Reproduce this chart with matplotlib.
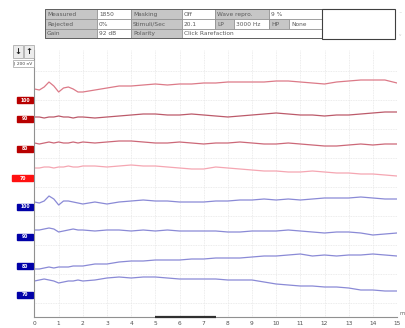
import matplotlib
matplotlib.use('Agg')
import matplotlib.pyplot as plt
import matplotlib.transforms as mtransforms
from matplotlib.patches import Rectangle

# time axis (ms)
t = [0, 0.2, 0.4, 0.6, 0.8, 1.0, 1.2, 1.4, 1.6, 1.8, 2.0,
     2.5, 3.0, 3.5, 4.0, 4.5, 5.0, 5.5, 6.0, 6.5, 7.0, 7.5, 8.0, 8.5,
     9.0, 9.5, 10.0, 10.5, 11.0, 11.5, 12.0, 12.5, 13.0, 13.5, 14.0, 14.5, 15.0]

# waveform amplitudes (display units, up = positive)
red_100 = [0, -1, 2, 7, 3, -3, 1, 2, 0, -3, -3,
           -1, 1, 3, 3, 4, 5, 4, 5, 5, 6, 6, 7, 7, 7, 7, 8, 8, 7, 6, 5, 7, 8, 9, 9, 9, 6]
red_90 = [0, 0, -1, 0, 0, 1, 0, 0, -1, 0, 0,
          -1, 0, 1, 2, 3, 3, 2, 2, 3, 2, 1, 0, 1, 2, 3, 4, 3, 2, 2, 1, 2, 2, 3, 4, 5, 5]
red_80 = [0, -1, 0, 1, 0, 1, 0, 0, 1, 0, 1,
          0, 1, 2, 2, 1, 0, 0, 1, 0, -1, 0, 0, 1, 0, -1, -1, 0, -1, -2, -3, -3, -2, -1, -2, -1, -1]
red_70 = [0, 0, 1, 1, 0, 1, 1, 2, 1, 1, 2,
          2, 1, 2, 3, 2, 2, 1, 0, -1, -1, 1, 0, -1, -2, -3, -3, -4, -4, -3, -4, -5, -5, -6, -6, -7, -8]
blue_100 = [0, -1, 1, 6, 3, -3, 1, 1, 0, -1, -2,
            0, -2, 0, 1, 2, 1, 1, 0, 0, 0, 1, 1, 2, 2, 3, 2, 3, 2, 3, 4, 4, 4, 5, 4, 3, 3]
blue_90 = [0, 0, 1, 2, 1, -2, -1, 0, 1, 0, 0,
           -1, 0, 0, -1, 0, -1, 0, -1, -1, -1, -1, -2, -2, -1, -1, -1, 0, -1, -2, -3, -2, -2, -3, -5, -4, -3]
blue_80 = [0, 0, 1, 2, 1, 2, 2, 2, 3, 3, 3,
           5, 5, 7, 8, 8, 9, 9, 9, 10, 10, 11, 11, 11, 12, 13, 13, 14, 15, 13, 14, 13, 14, 14, 15, 14, 13]
blue_70 = [0, 1, 2, 1, 0, -2, -1, 0, 0, 1, 0,
           1, 3, 4, 3, 4, 4, 3, 2, 2, 2, 2, 1, 1, 1, -1, -3, -4, -5, -5, -6, -6, -7, -9, -9, -10, -10]

levels = ['100', '90', '80', '70']
x_ticks = list(range(0, 16))

# header table text
row1 = ['Measured', '1850', 'Masking', 'Off', 'Wave repro.', '9 %']
row2 = ['Rejected', '0%', 'Stimuli/Sec', '20.1', 'LP', '3000 Hz', 'HP', 'None']
row3 = ['Gain', '92 dB', 'Polarity', 'Click Rarefaction']

W, H = 406, 328
fig = plt.figure(figsize=(W / 100, H / 100), dpi=100)


def px(x0, y0, x1, y1):
    return [x0 / W, 1 - y1 / H, (x1 - x0) / W, (y1 - y0) / H]


ax = fig.add_axes(px(34.5, 50, 397, 317))
ax.set_xlim(0, 15)
ax.set_ylim(0, 267)

# stacked trace layout
red_offsets = [228, 200, 174, 149]
blue_offsets = [115, 87, 48, 36]
red_label_y = [217, 198, 168, 139]
blue_label_y = [110, 80, 51, 22]
red_colors = ['#dc7a88', '#bc5a6a', '#cc6878', '#f5a6b2']
blue_color = '#8a8ad6'

for wave, off, c in zip([red_100, red_90, red_80, red_70], red_offsets, red_colors):
    ax.plot(t, [off + v for v in wave], color=c, lw=0.9)
for wave, off in zip([blue_100, blue_90, blue_80, blue_70], blue_offsets):
    ax.plot(t, [off + v for v in wave], color=blue_color, lw=0.9)

# grid
for x in x_ticks:
    ax.axvline(x, color='#e6e6e6', lw=0.6, ls=(0, (1, 1)), zorder=0)
for y in range(14, 267, 29):
    ax.axhline(y, color='#e6e6e6', lw=0.6, ls=(0, (1, 1)), zorder=0)

for s in ['top', 'right']:
    ax.spines[s].set_visible(False)
ax.spines['left'].set_color('#909090')
ax.spines['bottom'].set_color('#909090')
ax.spines['left'].set_linewidth(0.8)
ax.spines['bottom'].set_linewidth(0.8)
ax.set_xticks(x_ticks)
ax.set_xticklabels([str(v) for v in x_ticks])
ax.set_yticks([])
ax.tick_params(axis='x', length=0, labelsize=4.2, pad=3, labelcolor='#505050')
ax.text(15.12, 1, 'ms', fontsize=3.6, color='#606060', va='bottom', clip_on=False)

# analysis window marker
ax.plot([5, 7.5], [0, 0], color='#303030', lw=1.6, clip_on=False, zorder=5,
        solid_capstyle='butt')

# level labels left of the axis
tr = mtransforms.blended_transform_factory(fig.transFigure, ax.transData)
for lab, ly in zip(levels, red_label_y):
    x0, w = (12, 21) if lab == '70' else (17, 16)
    col = '#ff1010' if lab == '70' else '#b80000'
    ax.add_patch(Rectangle((x0 / W, ly - 3.2), w / W, 6.4, transform=tr,
                           color=col, clip_on=False))
    ax.text((x0 + w / 2) / W, ly, lab, transform=tr, fontsize=3.3, color='white',
            ha='center', va='center', fontweight='bold', clip_on=False)
for lab, ly in zip(levels, blue_label_y):
    ax.add_patch(Rectangle((17 / W, ly - 3.2), 16 / W, 6.4, transform=tr,
                           color='#0000a8', clip_on=False))
    ax.text(25 / W, ly, lab, transform=tr, fontsize=3.3, color='white',
            ha='center', va='center', fontweight='bold', clip_on=False)

# overlay in pixel coords for header table and buttons
ov = fig.add_axes([0, 0, 1, 1], facecolor='none')
ov.set_xlim(0, W)
ov.set_ylim(H, 0)
ov.axis('off')

edges = [45, 97, 131, 182, 215, 234, 269, 289, 322]
row_y = [9, 19, 28.5, 38]
grey = '#c6c6c6'


def cell(c0, c1, r, text, shaded):
    x0, x1 = edges[c0], edges[c1]
    y0, y1 = row_y[r], row_y[r + 1]
    ov.add_patch(Rectangle((x0, y0), x1 - x0, y1 - y0, facecolor=grey if shaded else 'white',
                           edgecolor='#8a8a8a', lw=0.5))
    ov.text(x0 + 2, (y0 + y1) / 2 + 0.3, text, fontsize=4.2, color='#5a5a5a',
            ha='left', va='center')


spans1 = [(0, 1), (1, 2), (2, 3), (3, 4), (4, 6), (6, 8)]
spans2 = [(0, 1), (1, 2), (2, 3), (3, 4), (4, 5), (5, 6), (6, 7), (7, 8)]
spans3 = [(0, 1), (1, 2), (2, 3), (3, 8)]
for r, (txts, spans) in enumerate([(row1, spans1), (row2, spans2), (row3, spans3)]):
    for i, (txt, (c0, c1)) in enumerate(zip(txts, spans)):
        cell(c0, c1, r, txt, i % 2 == 0)

ov.add_patch(Rectangle((45, 9), 277, 29, facecolor='none', edgecolor='#606060', lw=0.7))
ov.add_patch(Rectangle((322, 9), 73, 30, facecolor='white', edgecolor='#404040', lw=0.8))
ov.text(400, 14, '^', fontsize=3, color='#c8c8c8', ha='center', va='center')
ov.text(400, 35, 'v', fontsize=3, color='#c8c8c8', ha='center', va='center')

# arrow buttons and scale box
for bx, arr in [(13, '\u2193'), (24, '\u2191')]:
    ov.add_patch(Rectangle((bx, 45), 10, 13, facecolor='#ececec', edgecolor='#a0a0a0', lw=0.5))
    ov.text(bx + 5, 51.5, arr, fontsize=6, color='#202020', ha='center', va='center',
            fontweight='bold')
ov.add_patch(Rectangle((13, 59.5), 21, 7.5, facecolor='white', edgecolor='#a0a0a0', lw=0.5))
ov.text(14.5, 63.3, '| 200 nV', fontsize=3.2, color='#404040', ha='left', va='center')

fig.savefig('out.png', dpi=100)
